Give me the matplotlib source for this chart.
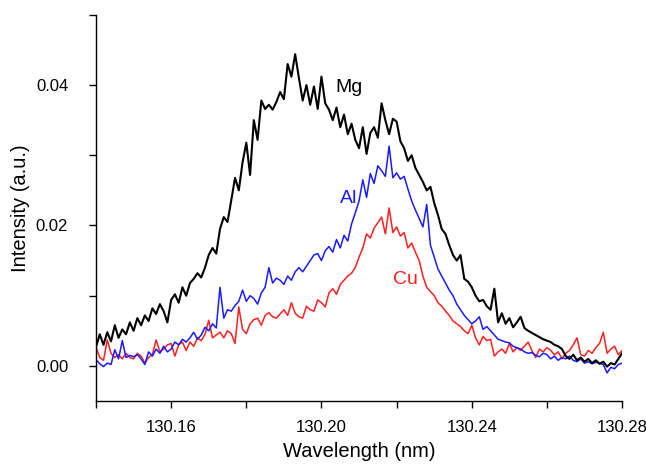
import numpy as np
import matplotlib
matplotlib.use("Agg")
import matplotlib.pyplot as plt
from matplotlib.ticker import FixedLocator

# wavelength grid (nm), 0.001 nm steps from 130.140 to 130.280
wavelength = np.round(np.arange(130.140, 130.2805, 0.001), 3)

# intensities (a.u.)
mg = [0.0027, 0.0045, 0.0030, 0.0048, 0.0035, 0.0058, 0.0040, 0.0052, 0.0045, 0.0062,
      0.0050, 0.0068, 0.0058, 0.0072, 0.0064, 0.0082, 0.0074, 0.0088, 0.0078, 0.0062,
      0.0094, 0.0102, 0.0090, 0.0112, 0.0100, 0.0118, 0.0124, 0.0132, 0.0126, 0.0140,
      0.0158, 0.0168, 0.0160, 0.0195, 0.0212, 0.0205, 0.0236, 0.0268, 0.0250, 0.0290,
      0.0318, 0.0272, 0.0350, 0.0322, 0.0378, 0.0366, 0.0372, 0.0365, 0.0376, 0.0390,
      0.0380, 0.0430, 0.0412, 0.0444, 0.0410, 0.0378, 0.0400, 0.0372, 0.0398, 0.0366,
      0.0412, 0.0374, 0.0365, 0.0350, 0.0368, 0.0340, 0.0358, 0.0330, 0.0345, 0.0322,
      0.0310, 0.0340, 0.0302, 0.0332, 0.0340, 0.0325, 0.0374, 0.0350, 0.0330, 0.0352,
      0.0348, 0.0320, 0.0310, 0.0292, 0.0300, 0.0282, 0.0272, 0.0262, 0.0250, 0.0255,
      0.0232, 0.0215, 0.0195, 0.0188, 0.0172, 0.0158, 0.0150, 0.0158, 0.0124, 0.0120,
      0.0112, 0.0100, 0.0092, 0.0094, 0.0085, 0.0080, 0.0110, 0.0062, 0.0075, 0.0060,
      0.0068, 0.0055, 0.0062, 0.0070, 0.0054, 0.0050, 0.0047, 0.0044, 0.0041, 0.0038,
      0.0036, 0.0034, 0.0030, 0.0028, 0.0024, 0.0014, 0.0010, 0.0016, 0.0008, 0.0012,
      0.0006, 0.0010, 0.0004, 0.0008, 0.0003, 0.0006, -0.0001, 0.0004, 0.0002, 0.0010,
      0.0018]

al = [0.0009, 0.0003, -0.0001, 0.0004, 0.0002, 0.0023, 0.0010, 0.0036, 0.0012, 0.0015,
      0.0013, 0.0016, 0.0010, 0.0002, 0.0020, 0.0014, 0.0024, 0.0018, 0.0028, 0.0020,
      0.0024, 0.0034, 0.0030, 0.0038, 0.0034, 0.0040, 0.0048, 0.0038, 0.0044, 0.0055,
      0.0050, 0.0060, 0.0054, 0.0112, 0.0068, 0.0080, 0.0078, 0.0086, 0.0092, 0.0108,
      0.0092, 0.0100, 0.0096, 0.0088, 0.0104, 0.0112, 0.0140, 0.0118, 0.0125, 0.0122,
      0.0116, 0.0128, 0.0122, 0.0134, 0.0140, 0.0134, 0.0142, 0.0150, 0.0158, 0.0160,
      0.0150, 0.0164, 0.0170, 0.0162, 0.0180, 0.0168, 0.0186, 0.0178, 0.0202, 0.0218,
      0.0235, 0.0265, 0.0240, 0.0274, 0.0260, 0.0285, 0.0278, 0.0270, 0.0313, 0.0268,
      0.0275, 0.0266, 0.0270, 0.0252, 0.0235, 0.0222, 0.0210, 0.0198, 0.0230, 0.0172,
      0.0155, 0.0138, 0.0128, 0.0118, 0.0108, 0.0100, 0.0088, 0.0080, 0.0072, 0.0066,
      0.0060, 0.0064, 0.0070, 0.0052, 0.0056, 0.0050, 0.0044, 0.0038, 0.0036, 0.0034,
      0.0033, 0.0028, 0.0026, 0.0024, 0.0020, 0.0018, 0.0019, 0.0015, 0.0013, 0.0018,
      0.0016, 0.0010, 0.0014, 0.0008, 0.0012, 0.0010, 0.0014, 0.0008, 0.0006, 0.0010,
      0.0004, 0.0006, 0.0003, 0.0005, 0.0004, 0.0002, -0.0010, -0.0002, -0.0004, 0.0002,
      0.0004]

cu = [0.0027, 0.0012, 0.0008, 0.0037, 0.0018, 0.0012, 0.0016, 0.0010, 0.0018, 0.0012,
      0.0010, 0.0018, 0.0014, 0.0004, 0.0012, 0.0016, 0.0037, 0.0020, 0.0024, 0.0030,
      0.0032, 0.0014, 0.0030, 0.0034, 0.0022, 0.0034, 0.0028, 0.0040, 0.0036, 0.0045,
      0.0065, 0.0040, 0.0044, 0.0048, 0.0040, 0.0050, 0.0046, 0.0032, 0.0084, 0.0052,
      0.0046, 0.0060, 0.0066, 0.0068, 0.0058, 0.0072, 0.0076, 0.0070, 0.0068, 0.0074,
      0.0080, 0.0072, 0.0090, 0.0075, 0.0070, 0.0068, 0.0085, 0.0080, 0.0078, 0.0094,
      0.0090, 0.0084, 0.0104, 0.0110, 0.0102, 0.0116, 0.0122, 0.0128, 0.0132, 0.0140,
      0.0155, 0.0168, 0.0188, 0.0182, 0.0196, 0.0204, 0.0212, 0.0188, 0.0225, 0.0190,
      0.0198, 0.0185, 0.0190, 0.0168, 0.0175, 0.0162, 0.0150, 0.0128, 0.0112, 0.0106,
      0.0100, 0.0090, 0.0085, 0.0078, 0.0072, 0.0064, 0.0060, 0.0056, 0.0050, 0.0046,
      0.0058, 0.0040, 0.0030, 0.0042, 0.0036, 0.0038, 0.0014, 0.0020, 0.0024, 0.0018,
      0.0032, 0.0020, 0.0026, 0.0022, 0.0028, 0.0034, 0.0022, 0.0012, 0.0024, 0.0020,
      0.0026, 0.0022, 0.0016, 0.0020, 0.0010, 0.0018, 0.0022, 0.0030, 0.0040, 0.0016,
      0.0014, 0.0022, 0.0018, 0.0026, 0.0032, 0.0048, 0.0018, 0.0024, 0.0028, 0.0016,
      0.0022]

plt.rcParams['font.family'] = ['Liberation Sans', 'DejaVu Sans']

fig = plt.figure(figsize=(6.46, 4.65), dpi=100)
ax = fig.add_axes([0.1486, 0.1376, 0.8144, 0.8304])

ax.plot(wavelength, cu, color='#ff2020', lw=1.1)
ax.plot(wavelength, al, color='#1a1aff', lw=1.1)
ax.plot(wavelength, mg, color='black', lw=1.5)

# curve labels
ax.text(130.2036, 0.0396, 'Mg', color='black', fontsize=14, ha='left', va='center')
ax.text(130.2050, 0.0238, 'Al', color='#1a1aff', fontsize=14, ha='left', va='center')
ax.text(130.2190, 0.0123, 'Cu', color='#ff2020', fontsize=14, ha='left', va='center')

ax.set_xlim(130.14, 130.28)
ax.set_ylim(-0.005, 0.05)
ax.xaxis.set_major_locator(FixedLocator([130.16, 130.20, 130.24, 130.28]))
ax.xaxis.set_minor_locator(FixedLocator([130.14, 130.18, 130.22, 130.26]))
ax.yaxis.set_major_locator(FixedLocator([0.00, 0.02, 0.04]))
ax.yaxis.set_minor_locator(FixedLocator([0.01, 0.03, 0.05]))
ax.set_xticklabels(['130.16', '130.20', '130.24', '130.28'])
ax.set_yticklabels(['0.00', '0.02', '0.04'])

for side in ['top', 'right']:
    ax.spines[side].set_visible(False)
ax.spines['left'].set_linewidth(1.0)
ax.spines['bottom'].set_linewidth(1.0)
ax.tick_params(which='both', direction='out', length=5, width=1.0)
ax.tick_params(axis='y', which='major', pad=15, labelsize=12)
ax.tick_params(axis='x', which='major', pad=9, labelsize=12)

ax.set_xlabel('Wavelength (nm)', fontsize=14.5, labelpad=5)
ax.set_ylabel('Intensity (a.u.)', fontsize=14.5, labelpad=4)

fig.savefig('out.png', dpi=100)
